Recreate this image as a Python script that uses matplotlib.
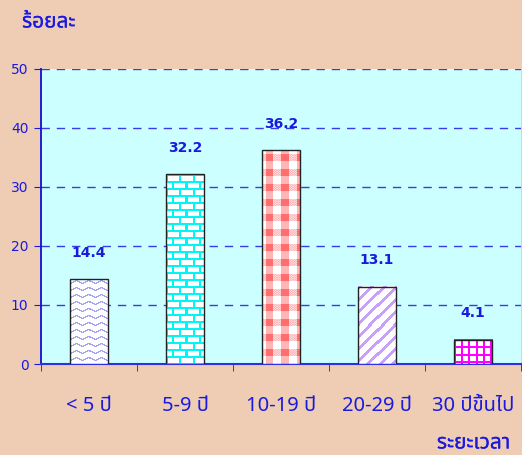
import numpy as np
import matplotlib
matplotlib.use("Agg")
import matplotlib.pyplot as plt
import matplotlib.patheffects as pe
from matplotlib import font_manager as fm
from matplotlib.ft2font import FT2Font

# ข้อมูล
categories = ["< 5 ปี", "5-9 ปี", "10-19 ปี", "20-29 ปี", "30 ปีขึ้นไป"]
values = [14.4, 32.2, 36.2, 13.1, 4.1]
yticks = [0, 10, 20, 30, 40, 50]
ylabel = "ร้อยละ"
xlabel = "ระยะเวลา"

BG = "#EECDB4"
PLOT_BG = "#CCFFFF"
BLUE = "#1a1adf"


def thai_font():
    """หาฟอนต์ที่มีตัวอักษรไทย"""
    found = []
    for f in fm.fontManager.ttflist:
        try:
            if 0x0E23 in FT2Font(f.fname).get_charmap():
                found.append(f.name)
        except Exception:
            continue
    for pref in ["Noto Sans Thai", "Tahoma", "Loma", "Garuda", "Sarabun"]:
        if pref in found:
            return pref
    return found[0] if found else "DejaVu Sans"


FONT = [thai_font(), "DejaVu Sans"]
plt.rcParams["font.family"] = FONT
SEMI = [pe.withStroke(linewidth=0.12, foreground=BLUE)]


# ลายของแท่ง (tile: 0 = ขาว, ค่าอื่น = สี)
def tile_wave():
    t = np.zeros((7, 12))
    for x in range(12):
        yc = 1 + abs(x - 6) / 2.0
        for r in range(7):
            d = min(abs(r - yc), abs(r + 7 - yc), abs(r - 7 - yc))
            if d <= 0.6:
                t[r, x] = 1
    return t


def tile_brick():
    t = np.zeros((14, 13))
    t[0:2, :] = 1
    t[7:9, :] = 1
    t[2:7, 0:2] = 1
    t[9:14, 6:8] = 1
    return t


def tile_plaid():
    t = np.zeros((15, 15))
    t[:, 4:11] += 0.5
    t[4:11, :] += 0.5
    # ลายจุดบนแถบแนวนอน
    for r in range(4, 11):
        for c in range(15):
            if (r + c) % 2 == 0 and t[r, c] == 0.5:
                t[r, c] = 0.25
    return t


def tile_diag():
    t = np.zeros((12, 12))
    for r in range(12):
        for c in range(12):
            if (r + c) % 12 < 4:
                t[r, c] = 1
    return t


def tile_grid():
    t = np.zeros((7, 7))
    t[0:2, :] = 1
    t[:, 0:2] = 1
    return t


patterns = [
    (tile_wave(), (165, 165, 240)),
    (tile_brick(), (0, 245, 245)),
    (tile_plaid(), (255, 110, 110)),
    (tile_diag(), (200, 160, 250)),
    (tile_grid(), (255, 0, 255)),
]


def make_img(tile, color, h, w):
    reps = (h // tile.shape[0] + 2, w // tile.shape[1] + 2)
    a = np.tile(tile, reps)[:h, :w]
    col = np.array(color) / 255.0
    img = np.ones((h, w, 3)) * (1 - a[..., None]) + col * a[..., None]
    return np.clip(img, 0, 1)


fig = plt.figure(figsize=(5.22, 4.55), dpi=100, facecolor=BG)
ax = fig.add_axes([41 / 522, 91 / 455, 480 / 522, 295 / 455])
ax.set_facecolor(PLOT_BG)

x = np.arange(len(categories))
ax.set_xlim(-0.5, len(categories) - 0.5)
ax.set_ylim(0, 50)

bars = ax.bar(x, values, width=0.4, facecolor="none", edgecolor="#222222",
              linewidth=1.0, zorder=4)

for b, (tile, color) in zip(bars, patterns):
    x0, w, h = b.get_x(), b.get_width(), b.get_height()
    p0 = ax.transData.transform((x0, 0))
    p1 = ax.transData.transform((x0 + w, h))
    wpx = max(int(round(p1[0] - p0[0])), 1)
    hpx = max(int(round(p1[1] - p0[1])), 1)
    img = make_img(tile, color, hpx, wpx)
    ax.imshow(img, extent=(x0, x0 + w, 0, h), aspect="auto",
              interpolation="nearest", zorder=3)

# ค่าบนแท่ง
for xi, v in zip(x, values):
    ax.annotate(f"{v}", (xi, v), xytext=(0, 14), textcoords="offset points",
                ha="center", va="bottom", color=BLUE, fontsize=10,
                fontweight="bold", family=["DejaVu Sans"])

ax.set_xlim(-0.5, len(categories) - 0.5)
ax.set_ylim(0, 50)

# เส้นกริด
for yv in yticks[1:]:
    ax.axhline(yv, color="#3a3ae8", linewidth=1.0, linestyle=(0, (6, 5)),
               zorder=2)

ax.set_yticks(yticks)
ax.set_yticklabels([str(v) for v in yticks], color=BLUE, fontsize=10,
                   family=["DejaVu Sans"])
ax.tick_params(axis="y", direction="out", length=5, color=BLUE, pad=4)

ax.set_xticks(x)
ax.set_xticklabels(categories, color=BLUE, fontsize=14.5)
ax.tick_params(axis="x", which="major", length=0, pad=23)
ax.set_xticks(np.arange(-0.5, len(categories)), minor=True)
ax.tick_params(axis="x", which="minor", direction="out", length=5, color=BLUE)

for s in ["top", "right"]:
    ax.spines[s].set_visible(False)
ax.spines["left"].set_color("#1010d0")
ax.spines["bottom"].set_color("#3030e0")
ax.spines["left"].set_linewidth(1.3)
ax.spines["bottom"].set_linewidth(1.5)

fig.text(22 / 522, 1 - 22 / 455, ylabel, color=BLUE, fontsize=15,
         fontstyle="italic", ha="left", va="center", path_effects=SEMI)
fig.text(510 / 522, 1 - 443 / 455, xlabel, color=BLUE, fontsize=15,
         fontstyle="italic", ha="right", va="center", path_effects=SEMI)

fig.savefig("out.png", dpi=100, facecolor=BG)
